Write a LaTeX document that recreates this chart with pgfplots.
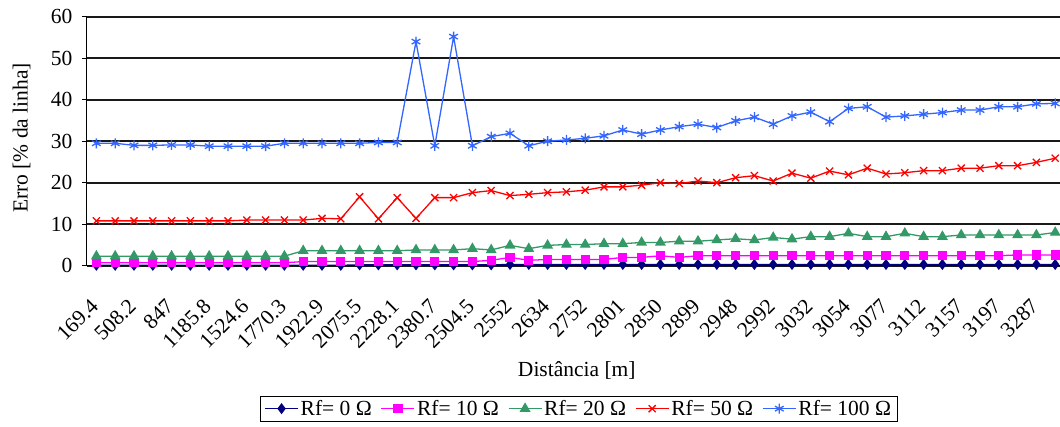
\documentclass[border=0pt]{standalone}
\usepackage{fontspec}
\setmainfont{Liberation Serif}
\usepackage{pgfplots}
\usepackage{pgfplotstable}
\pgfplotsset{compat=1.18}
\definecolor{cnavy}{HTML}{000080}
\definecolor{cmag}{HTML}{FF00FF}
\definecolor{cgreen}{HTML}{339966}
\definecolor{cred}{HTML}{FF0000}
\definecolor{cblue}{HTML}{3366FF}
\pgfplotstableread{
x rf0 rf10 rf20 rf50 rf100
0 0.1 0.7 2.3 10.8 29.5
1 0.1 0.7 2.3 10.8 29.5
2 0.1 0.7 2.3 10.8 29.0
3 0.1 0.7 2.3 10.8 29.0
4 0.1 0.7 2.3 10.8 29.1
5 0.1 0.7 2.3 10.8 29.1
6 0.1 0.7 2.3 10.8 28.8
7 0.1 0.7 2.3 10.8 28.8
8 0.1 0.7 2.3 11.0 28.8
9 0.1 0.7 2.3 11.0 28.8
10 0.1 0.7 2.3 11.0 29.5
11 0.1 1.0 3.6 11.0 29.5
12 0.1 1.0 3.6 11.4 29.5
13 0.1 1.0 3.6 11.3 29.5
14 0.2 1.0 3.6 16.6 29.5
15 0.2 1.0 3.6 11.3 29.7
16 0.2 1.0 3.6 16.4 29.7
17 0.2 1.0 3.8 11.4 54.0
18 0.2 1.0 3.8 16.4 28.9
19 0.2 1.0 3.8 16.4 55.2
20 0.2 1.0 4.1 17.6 28.9
21 0.2 1.3 3.8 18.1 31.1
22 0.3 2.0 4.9 16.9 31.9
23 0.3 1.3 4.1 17.2 28.9
24 0.3 1.5 4.9 17.6 30.0
25 0.3 1.5 5.1 17.8 30.3
26 0.3 1.5 5.1 18.2 30.7
27 0.3 1.5 5.3 19.0 31.3
28 0.3 2.0 5.3 19.0 32.7
29 0.3 2.0 5.6 19.4 31.7
30 0.3 2.4 5.6 20.0 32.7
31 0.3 2.0 5.9 19.8 33.5
32 0.3 2.4 5.9 20.4 34.1
33 0.3 2.4 6.2 20.0 33.3
34 0.3 2.4 6.5 21.2 34.9
35 0.3 2.4 6.2 21.7 35.8
36 0.3 2.4 6.8 20.4 34.1
37 0.3 2.4 6.4 22.3 36.1
38 0.3 2.4 7.0 21.1 37.0
39 0.3 2.4 7.0 22.8 34.7
40 0.3 2.4 7.8 21.9 37.9
41 0.3 2.4 7.0 23.5 38.3
42 0.3 2.4 7.0 22.1 35.8
43 0.3 2.4 7.8 22.4 36.1
44 0.3 2.4 7.0 22.9 36.5
45 0.3 2.4 7.0 22.9 36.9
46 0.3 2.4 7.4 23.5 37.5
47 0.3 2.4 7.4 23.5 37.5
48 0.3 2.4 7.4 24.1 38.3
49 0.3 2.6 7.4 24.1 38.3
50 0.3 2.6 7.4 24.9 39.0
51 0.3 2.6 8.0 25.9 39.1
}\datatable
\begin{document}
\begin{tikzpicture}
\begin{axis}[
  at={(0,0)}, anchor=south west,
  scale only axis, width=977.6bp, height=249bp,
  font=\fontsize{21.5bp}{25bp}\selectfont,
  xmin=-0.5, xmax=51.5, ymin=0, ymax=60,
  clip=false,
  axis lines*=left,
  axis line style={black, line width=1bp},
  ytick={0,10,...,60},
  ymajorgrids, grid style={black!90, line width=2bp},
  /pgf/number format/assume math mode=true,
  yticklabel style={xshift=-6bp},
  tick align=outside,
  major tick length=5bp, minor tick length=5bp,
  tick style={black, line width=0.8bp},
  xtick={0,2,...,50},
  xticklabels={169.4,508.2,847,1185.8,1524.6,1770.3,1922.9,2075.5,2228.1,2380.7,2504.5,2552,2634,2752,2801,2850,2899,2948,2992,3032,3054,3077,3112,3157,3197,3287},
  x tick style={draw=none},
  minor xtick={-0.5,0.5,...,51.5},
  minor x tick style={black, line width=0.8bp},
  xticklabel style={xshift=-7bp, yshift=-22bp, rotate=45, anchor=north east},
  xlabel={Distância [m]},
  ylabel={Erro [\% da linha]},
  every axis x label/.style={at={(axis description cs:0.501,-0.419)}, anchor=center},
  every axis y label/.style={at={(axis description cs:-0.0668,0.513)}, rotate=90, anchor=center},
  legend columns=5,
  legend style={at={(axis description cs:0.503,-0.523)}, anchor=north, draw=black, line width=0.8bp,
    font=\fontsize{21.5bp}{25bp}\selectfont, inner xsep=4bp, inner ysep=2bp,
    /tikz/every even column/.append style={column sep=7bp}},
  legend image code/.code={\draw[mark repeat=2,mark phase=2] plot coordinates {(0bp,0bp)(16.5bp,0bp)(33bp,0bp)};},
  every axis plot/.append style={line width=1.3bp},
]
\addplot[cnavy, mark=diamond*, mark size=4.5bp, mark options={solid, fill=cnavy}] table[x=x, y=rf0] {\datatable};
\addlegendentry{Rf= 0 Ω}
\addplot[cmag, mark=square*, mark size=4bp, mark options={solid, fill=cmag}] table[x=x, y=rf10] {\datatable};
\addlegendentry{Rf= 10 Ω}
\addplot[cgreen, mark=triangle*, mark size=5bp, mark options={solid, fill=cgreen}] table[x=x, y=rf20] {\datatable};
\addlegendentry{Rf= 20 Ω}
\addplot[cred, mark=x, mark size=5bp, mark options={solid}] table[x=x, y=rf50] {\datatable};
\addlegendentry{Rf= 50 Ω}
\addplot[cblue, mark=asterisk, mark size=5bp, mark options={solid}] table[x=x, y=rf100] {\datatable};
\addlegendentry{Rf= 100 Ω}
\end{axis}
\pgfresetboundingbox
\path[use as bounding box] (-87bp,-161.3bp) rectangle (973bp,265.7bp);
\end{tikzpicture}
\end{document}
